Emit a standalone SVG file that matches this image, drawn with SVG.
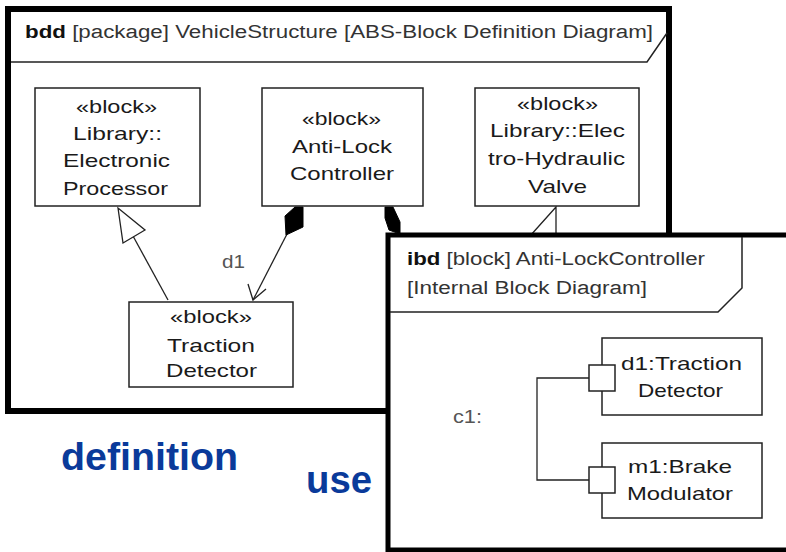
<svg xmlns="http://www.w3.org/2000/svg" width="786" height="552" viewBox="0 0 786 552">
<style>
.frame{fill:#fff;stroke:#000;stroke-width:6}
.hdr{fill:none;stroke:#222;stroke-width:1.5}
.blk{fill:#fff;stroke:#222;stroke-width:1.5}
.t{font-family:"Liberation Sans",Arial,sans-serif;font-size:19px;fill:#1a1a1a}
.ht{font-family:"Liberation Sans",Arial,sans-serif;font-size:18px;fill:#333}
.lbl{font-family:"Liberation Sans",Arial,sans-serif;font-size:18px;fill:#555}
.big{font-family:"Liberation Sans",Arial,sans-serif;font-size:38px;font-weight:bold;fill:#0a3a9a}
.ln{fill:none;stroke:#222;stroke-width:1.3}
</style>
<rect width="786" height="552" fill="#fff"/>

<g id="bdd-frame">
<rect class="frame" x="8" y="9" width="661" height="402"/>
<polyline class="hdr" points="11,62 647,62 667,33"/>
<text class="ht" x="25" y="38" textLength="628" lengthAdjust="spacingAndGlyphs"><tspan font-weight="bold" fill="#111">bdd</tspan> [package] VehicleStructure [ABS-Block Definition Diagram]</text>
</g>

<g id="connectors">
<line class="ln" x1="168" y1="300" x2="133" y2="236"/>
<polygon points="118,208 123,243 145,230" fill="#fff" stroke="#222" stroke-width="1.3"/>
<line class="ln" x1="287" y1="234" x2="253" y2="300"/>
<polyline class="ln" points="248,284 253,300 266,289"/>
<polygon points="295,207 303,207 303,227 286,235 285,216" fill="#000" stroke="#000" stroke-width="1"/>
<polygon points="385,207 393,207 400,222 400,234 389,230 385,218" fill="#000" stroke="#000" stroke-width="1"/>
<polygon points="556,207 530,236 556,244" fill="#fff" stroke="#222" stroke-width="1.3"/>
<text class="lbl" x="222" y="268" textLength="23" lengthAdjust="spacingAndGlyphs">d1</text>
</g>

<g id="electronic-processor">
<rect class="blk" x="35" y="88" width="165" height="118"/>
<text class="t" x="76" y="113" textLength="81" lengthAdjust="spacingAndGlyphs">«block»</text>
<text class="t" x="73" y="140" textLength="89" lengthAdjust="spacingAndGlyphs">Library::</text>
<text class="t" x="63" y="167" textLength="107" lengthAdjust="spacingAndGlyphs">Electronic</text>
<text class="t" x="63" y="195" textLength="105" lengthAdjust="spacingAndGlyphs">Processor</text>
</g>

<g id="anti-lock-controller">
<rect class="blk" x="262" y="88" width="161" height="118"/>
<text class="t" x="302" y="125" textLength="79" lengthAdjust="spacingAndGlyphs">«block»</text>
<text class="t" x="292" y="153" textLength="100" lengthAdjust="spacingAndGlyphs">Anti-Lock</text>
<text class="t" x="290" y="180" textLength="104" lengthAdjust="spacingAndGlyphs">Controller</text>
</g>

<g id="electro-hydraulic-valve">
<rect class="blk" x="475" y="88" width="164" height="118"/>
<text class="t" x="517" y="110" textLength="81" lengthAdjust="spacingAndGlyphs">«block»</text>
<text class="t" x="490" y="137" textLength="135" lengthAdjust="spacingAndGlyphs">Library::Elec</text>
<text class="t" x="488" y="165" textLength="137" lengthAdjust="spacingAndGlyphs">tro-Hydraulic</text>
<text class="t" x="528" y="193" textLength="59" lengthAdjust="spacingAndGlyphs">Valve</text>
</g>

<g id="traction-detector">
<rect class="blk" x="129" y="302" width="164" height="85"/>
<text class="t" x="170" y="323" textLength="82" lengthAdjust="spacingAndGlyphs">«block»</text>
<text class="t" x="167" y="352" textLength="88" lengthAdjust="spacingAndGlyphs">Traction</text>
<text class="t" x="166" y="377" textLength="91" lengthAdjust="spacingAndGlyphs">Detector</text>
</g>

<g id="labels">
<text class="big" x="61" y="470" textLength="177" lengthAdjust="spacingAndGlyphs">definition</text>
<text class="big" x="306" y="493" textLength="66" lengthAdjust="spacingAndGlyphs">use</text>
</g>

<g id="ibd-frame">
<rect x="388" y="235" width="420" height="315" fill="#fff" stroke="#000" stroke-width="5"/>
<polyline class="hdr" points="390,312 718,312 742,288 742,237"/>
<text class="ht" x="407" y="265" textLength="298" lengthAdjust="spacingAndGlyphs"><tspan font-weight="bold" fill="#111">ibd</tspan> [block] Anti-LockController</text>
<text class="ht" x="407" y="294" textLength="240" lengthAdjust="spacingAndGlyphs">[Internal Block Diagram]</text>
</g>

<g id="ibd-connectors">
<polyline class="ln" points="589,378 537,378 537,480 589,480"/>
<text class="lbl" x="453" y="423" textLength="29" lengthAdjust="spacingAndGlyphs" fill="#444">c1:</text>
</g>

<g id="part-d1">
<rect class="blk" x="602" y="338" width="160" height="77"/>
<rect class="blk" x="589" y="365" width="26" height="26"/>
<text class="t" x="621" y="370" textLength="121" lengthAdjust="spacingAndGlyphs">d1:Traction</text>
<text class="t" x="638" y="397" textLength="85" lengthAdjust="spacingAndGlyphs">Detector</text>
</g>

<g id="part-m1">
<rect class="blk" x="602" y="443" width="160" height="75"/>
<rect class="blk" x="589" y="467" width="26" height="26"/>
<text class="t" x="628" y="473" textLength="104" lengthAdjust="spacingAndGlyphs">m1:Brake</text>
<text class="t" x="627" y="500" textLength="106" lengthAdjust="spacingAndGlyphs">Modulator</text>
</g>
</svg>
